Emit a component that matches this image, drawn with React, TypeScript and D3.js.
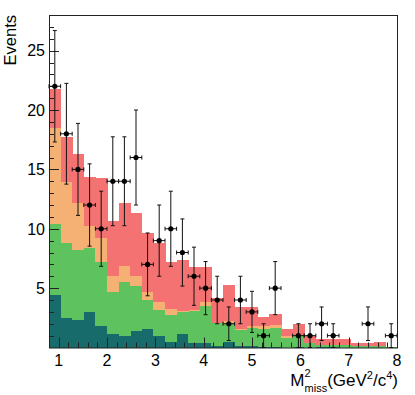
import * as d3 from "d3";

// bin centres (GeV^2/c^4), bins are 0.24 wide from 0.8 to 8.0
const binCenters = [0.92, 1.16, 1.4, 1.64, 1.88, 2.12, 2.36, 2.6, 2.84, 3.08, 3.32, 3.56, 3.8, 4.04, 4.28,
  4.52, 4.76, 5.0, 5.24, 5.48, 5.72, 5.96, 6.2, 6.44, 6.68, 6.92, 7.16, 7.4, 7.64, 7.88];
const binHalf = 0.12;

// stacked MC components (bottom -> top)
const tealBkg = [4.44, 2.47, 2.33, 2.95, 1.77, 1.15, 0.98, 1.35, 1.57, 0.93, 0.5, 1.15, 0.42, 0.37, 0.14,
  0.48, 0.1, 0.1, 0.05, 0.05, 0, 0.08, 0, 0.02, 0.02, 0, 0, 0, 0, 0];
const greenBkg = [5.97, 6.32, 5.89, 5.42, 5.47, 3.51, 4.52, 3.79, 2.39, 2.24, 2.25, 1.88, 2.69, 3.14, 1.91,
  1.51, 1.35, 1.55, 1.5, 1.58, 0.79, 0.9, 0.37, 0.21, 0.21, 0.2, 0.15, 0.15, 0.15, 0.03];
const orangeBkg = [8.06, 5.18, 3.98, 1.82, 1.96, 1.32, 1.38, 0.92, 0.75, 0.7, 0.48, 0.07, 0.04, 0.36, 0.05,
  0.28, 0.15, 0.12, 0.3, 0.28, 0.19, 0.07, 0.03, 0.02, 0.02, 0.01, 0.01, 0.01, 0.01, 0];
const redSig = [3.28, 3.79, 4.1, 4.21, 5.06, 4.71, 5.32, 5.24, 4.97, 4.92, 3.93, 4.23, 3.62, 2.95, 2.1,
  3.03, 1.85, 1.68, 0.76, 0.93, 0.59, 0.94, 0.58, 0.45, 0.45, 0.5, 0.2, 0.21, 0.32, 0.05];

// observed events
const dataCounts = [22, 18, 15, 12, 10, 14, 14, 16, 7, 9, 10, 8, 6, 5, 4, 2, 4, 3, 1, 5, 0, 1, 1, 2, 1, 0, 0, 2, 0, 1];

const layerKeys = ["teal", "green", "orange", "red"];
const layerColors = { teal: "#176b6a", green: "#5ec35e", orange: "#f5b073", red: "#f57272" };

const xTicksMajor = [1, 2, 3, 4, 5, 6, 7, 8];
const yTicksMajor = [5, 10, 15, 20, 25];

const W = 415, H = 395;
const left = 49, right = 397, top = 15, bottom = 347.5;
const font = "'Liberation Sans', Arial, Helvetica, sans-serif";

export default function App() {
  const x = d3.scaleLinear([0.8, 8.0], [left, right]);
  const y = d3.scaleLinear([0, 28], [bottom, top]);

  const table = binCenters.map((c, i) => ({
    c, teal: tealBkg[i], green: greenBkg[i], orange: orangeBkg[i], red: redSig[i],
  }));
  const stacked = d3.stack().keys(layerKeys)(table as any);

  const xMinor = d3.range(4, 41).map(i => i * 0.2); // tick marks every 0.2
  const yMinor = d3.range(1, 28);

  return (
    <svg width={W} height={H} style={{ position: "absolute", left: 0, top: 0, background: "white" }}
      fontFamily={font}>
      {stacked.map(layer => (
        <g key={layer.key} fill={(layerColors as any)[layer.key]} shapeRendering="crispEdges">
          {layer.map((d, i) => d[1] - d[0] > 0 ? (
            <rect key={i} x={x(binCenters[i] - binHalf)} width={x(binCenters[i] + binHalf) - x(binCenters[i] - binHalf) + 0.5}
              y={y(d[1])} height={y(d[0]) - y(d[1])} />
          ) : null)}
        </g>
      ))}

      {/* axis ticks, drawn inside the frame */}
      <g stroke="#222" strokeWidth={1}>
        {yMinor.map(v => (
          <line key={"ym" + v} x1={left} x2={left + (v % 5 === 0 ? 10 : 5)} y1={Math.round(y(v)) + 0.5} y2={Math.round(y(v)) + 0.5} />
        ))}
        {xMinor.map(v => {
          const major = Math.abs(v - Math.round(v)) < 1e-6;
          return <line key={"xm" + v} x1={Math.round(x(v)) + 0.5} x2={Math.round(x(v)) + 0.5} y1={bottom} y2={bottom - (major ? 10 : 5)} />;
        })}
      </g>
      <rect x={left + 0.5} y={top + 0.5} width={right - left} height={bottom - top} fill="none" stroke="#222" strokeWidth={1} />

      {/* data points with errors */}
      <g stroke="#111" strokeWidth={1}>
        {dataCounts.map((n, i) => {
          if (n <= 0) return null;
          const cx = x(binCenters[i]);
          const cy = y(n);
          const e = Math.sqrt(n);
          const y1 = y(n + e), y2 = y(Math.max(0, n - e));
          const xl = x(binCenters[i] - binHalf), xr = x(binCenters[i] + binHalf);
          return (
            <g key={i}>
              <line x1={cx} x2={cx} y1={y1} y2={y2} />
              <line x1={cx - 2} x2={cx + 2} y1={y1} y2={y1} />
              <line x1={cx - 2} x2={cx + 2} y1={y2} y2={y2} />
              <line x1={xl} x2={xr} y1={cy} y2={cy} />
              <line x1={xl} x2={xl} y1={cy - 2} y2={cy + 2} />
              <line x1={xr} x2={xr} y1={cy - 2} y2={cy + 2} />
              <circle cx={cx} cy={cy} r={2.6} fill="#000" stroke="none" />
            </g>
          );
        })}
      </g>

      {/* tick labels */}
      <g fontSize={16} fill="#000">
        {yTicksMajor.map(v => (
          <text key={v} x={45} y={y(v)} dy="0.36em" textAnchor="end">{v}</text>
        ))}
        {xTicksMajor.map(v => (
          <text key={v} x={x(v)} y={366} textAnchor="middle">{v}</text>
        ))}
      </g>

      <text transform={`translate(16,${top}) rotate(-90)`} textAnchor="end" fontSize={16.5}>Events</text>

      <text x={right + 1} y={386} textAnchor="end" fontSize={17}>
        M<tspan fontSize={11} dy={-9}>2</tspan>
        <tspan fontSize={11} dx={-6.1} dy={15}>miss</tspan>
        <tspan dy={-6}>(GeV</tspan>
        <tspan fontSize={11} dy={-7}>2</tspan>
        <tspan dy={7}>/c</tspan>
        <tspan fontSize={11} dy={-7}>4</tspan>
        <tspan dy={7}>)</tspan>
      </text>
    </svg>
  );
}
